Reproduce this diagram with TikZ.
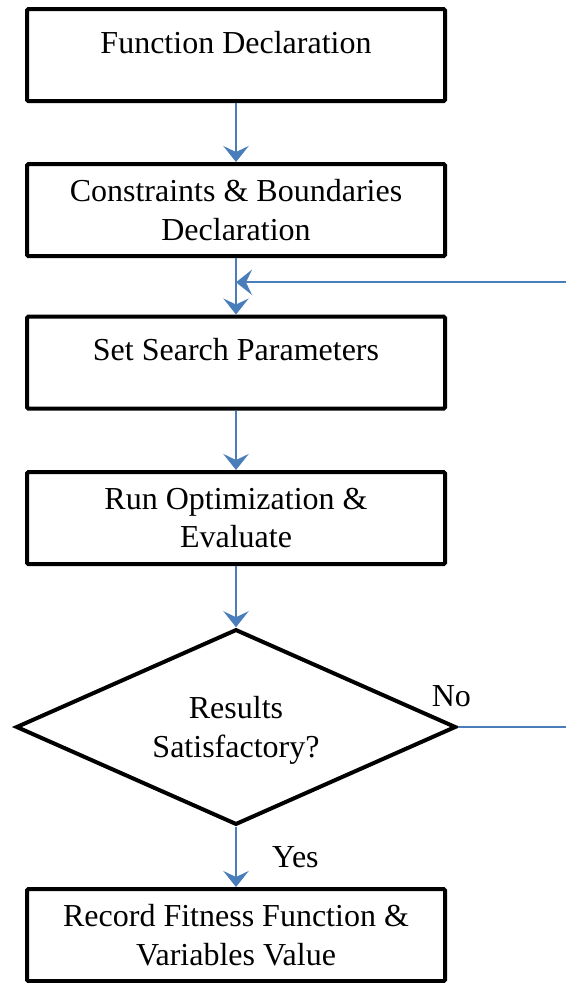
\documentclass[tikz,border=0pt]{standalone}
\usepackage{fontspec}
\setmainfont{Liberation Serif}
\usepackage{tikz}
\usetikzlibrary{arrows.meta, shapes.geometric, calc}
\definecolor{flowblue}{RGB}{74,126,187}

\tikzset{
  procbox/.style={rectangle, draw, line width=3pt, rounded corners=1pt, minimum width=313.5pt, minimum height=69pt, inner sep=0pt, align=center},
  onebox/.style={procbox, text height=16pt, text depth=19pt},
  decbox/.style={diamond, aspect=2.2, draw, line width=3pt, minimum width=330pt, minimum height=146.7pt, inner sep=0pt, align=center, text depth=0pt},
  flow/.style={draw=flowblue, line width=1.5pt, -{Stealth[length=12pt, width=19pt, inset=4.5pt]}},
}

\begin{document}
\begin{tikzpicture}[x=0.75pt, y=-0.75pt, font=\fontsize{24}{28.8}\selectfont]
  \useasboundingbox (0,0) rectangle (566,983);

  \node[onebox] (fd) at (236,55) {Function Declaration};
  \node[procbox] (cb) at (236,210) {Constraints \& Boundaries\\Declaration};
  \node[onebox] (sp) at (236,362.5) {Set Search Parameters};
  \node[procbox] (ro) at (236,518) {Run Optimization \&\\Evaluate};
  \node[decbox] (rs) at (236,727) {Results\\Satisfactory?};
  \node[procbox] (rf) at (236,935) {Record Fitness Function \&\\Variables Value};

  % loop back enters between the second and third box
  \coordinate (merge) at ($(cb.south)!0.43!(sp.north)$);
  \coordinate (back) at (590,727);

  \draw[flow] (fd) -- (cb);
  \draw[flow] (cb) -- (sp);
  \draw[flow] (sp) -- (ro);
  \draw[flow] (ro) -- (rs);
  \draw[flow] (rs) -- node[right=23pt] (yes) {Yes} (rf);
  \draw[flow] (rs.east) -- node[pos=0, above=11pt, xshift=-5pt] (no) {No} (back) |- (merge);
\end{tikzpicture}
\end{document}
